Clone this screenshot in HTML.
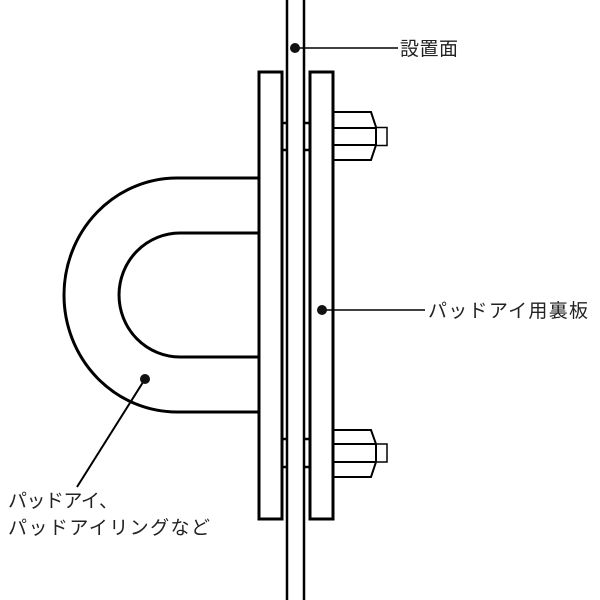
<!DOCTYPE html>
<html><head><meta charset="utf-8"><style>
body{margin:0;background:#fff;width:600px;height:600px;overflow:hidden}
svg{display:block}
text{font-family:"Liberation Sans","Noto Sans CJK JP",sans-serif;font-size:19px;fill:#222}
</style></head><body>
<svg width="600" height="600" viewBox="0 0 600 600">
<g fill="none" stroke="#000">
<line x1="287" y1="0" x2="287" y2="600" stroke-width="2.5"/>
<line x1="304" y1="0" x2="304" y2="600" stroke-width="2.5"/>
<rect x="259" y="72" width="23" height="447" stroke-width="3"/>
<rect x="310" y="72" width="23" height="447" stroke-width="3"/>
<g stroke-width="2.5">
<line x1="282" y1="123" x2="287" y2="123"/><line x1="282" y1="150" x2="287" y2="150"/>
<line x1="304" y1="123" x2="310" y2="123"/><line x1="304" y1="150" x2="310" y2="150"/>
<line x1="282" y1="439" x2="287" y2="439"/><line x1="282" y1="467" x2="287" y2="467"/>
<line x1="304" y1="439" x2="310" y2="439"/><line x1="304" y1="467" x2="310" y2="467"/>
</g>
<g stroke-width="2">
<path d="M333 112 H371 L376 127 V145 L371 160 H333"/>
<line x1="333" y1="128" x2="376" y2="128"/><line x1="333" y1="145" x2="376" y2="145"/>
<rect x="376" y="127.5" width="11" height="18" stroke-width="1.5"/>
<path d="M333 430 H371 L376 444 V462 L371 477 H333"/>
<line x1="333" y1="444" x2="376" y2="444"/><line x1="333" y1="462" x2="376" y2="462"/>
<rect x="376" y="444" width="11" height="18" stroke-width="1.5"/>
</g>
<path d="M258 178 H177 A113 117 0 0 0 177 412 H258" stroke-width="3"/>
<path d="M258 233 H180 A61 62 0 0 0 180 357 H258" stroke-width="3"/>
<line x1="295" y1="48" x2="398" y2="48" stroke-width="1.5"/>
<line x1="322" y1="310" x2="425" y2="310" stroke-width="1.5"/>
<line x1="145" y1="379" x2="77" y2="487" stroke-width="2"/>
</g>
<circle cx="295" cy="48" r="5" fill="#111"/>
<circle cx="322" cy="310" r="5" fill="#111"/>
<circle cx="145" cy="379" r="5" fill="#111"/>
<text x="400" y="55" textLength="58">設置面</text>
<text x="428" y="317" textLength="160">パッドアイ用裏板</text>
<text x="8" y="507" textLength="110">パッドアイ、</text>
<text x="8" y="534" textLength="202">パッドアイリングなど</text>
</svg>
</body></html>
